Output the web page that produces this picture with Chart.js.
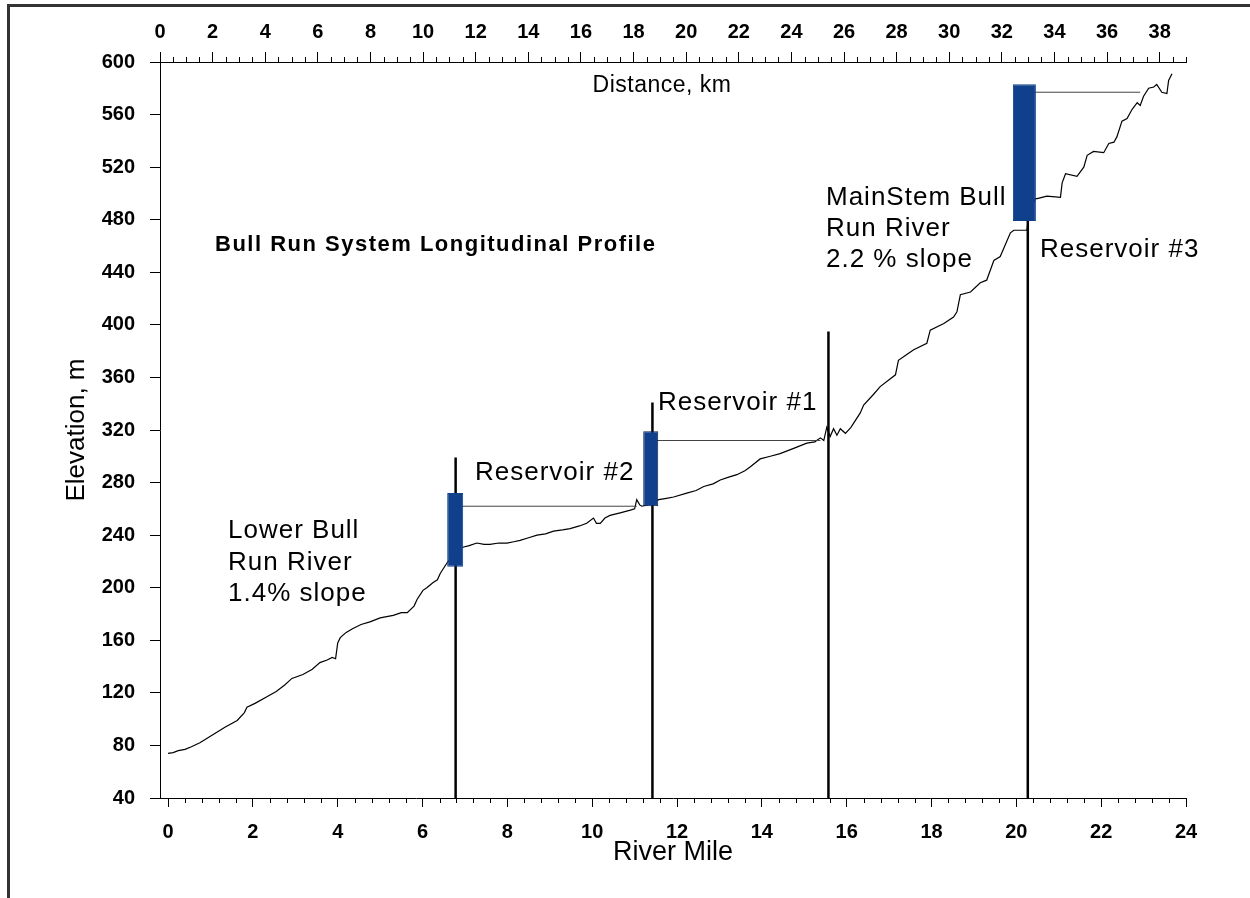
<!DOCTYPE html>
<html>
<head>
<meta charset="utf-8">
<title>Bull Run System Longitudinal Profile</title>
<script src="https://cdn.jsdelivr.net/npm/chart.js@4.4.1/dist/chart.umd.min.js"></script>
<style>
  html, body { margin: 0; padding: 0; background: #fff; }
  #wrap { position: relative; width: 1250px; height: 898px; overflow: hidden; }
  #profilo { position: absolute; left: 0; top: 0; }
  #cornice { position: absolute; left: 7px; top: 4px; width: 1300px; height: 1000px;
             border-top: 3px solid #333; border-left: 3px solid #333; pointer-events: none; }
</style>
</head>
<body>
<div id="wrap">
  <canvas id="profilo" width="1250" height="898"></canvas>
  <div id="cornice"></div>
</div>
<script>
// river bed profile (river mile, elevation m)
var riverMile = [0.00, 0.12, 0.24, 0.40, 0.55, 0.75, 0.95, 1.15, 1.35, 1.63, 1.80, 1.86, 2.05, 2.33, 2.55, 2.75, 2.92, 3.18, 3.40, 3.58, 3.75, 3.87, 3.95, 4.00, 4.06, 4.20, 4.36, 4.55, 4.76, 5.00, 5.31, 5.50, 5.64, 5.80, 5.87, 6.01, 6.10, 6.25, 6.35, 6.42, 6.58, 6.72, 6.80, 6.97,
  7.10, 7.28, 7.45, 7.59, 7.80, 7.99, 8.15, 8.30, 8.50, 8.70, 8.90, 9.09, 9.30, 9.48, 9.70, 9.87, 10.03, 10.10, 10.19, 10.30, 10.42, 10.66, 10.90, 11.00, 11.05, 11.12, 11.17, 11.30,
  11.57, 11.75, 11.92, 12.23, 12.45, 12.63, 12.85, 13.02, 13.20, 13.41, 13.60, 13.73, 13.96, 14.20, 14.43, 14.75, 15.06, 15.25, 15.38, 15.46, 15.53, 15.61, 15.69, 15.77, 15.85, 15.97, 16.10,
  16.32, 16.40, 16.63, 16.79, 17.03, 17.15, 17.22, 17.40, 17.58, 17.89, 17.97, 18.29, 18.52, 18.60, 18.68, 18.92, 19.15, 19.30, 19.47, 19.62, 19.86, 19.94, 20.25, 20.30, 20.45,
  20.49, 20.72, 21.04, 21.08, 21.16, 21.43, 21.59, 21.67, 21.82, 22.06, 22.18, 22.30, 22.37, 22.49, 22.61, 22.73, 22.85, 22.92, 23.00, 23.12, 23.24, 23.31, 23.43, 23.55, 23.59, 23.67];
var elevation = [74, 74.5, 76, 77, 79, 82, 86, 90, 94, 99, 105, 109, 112, 117, 121, 126, 131, 134, 138, 143, 145, 147, 146, 158, 162, 166, 169, 172, 174, 177, 179, 181, 181, 186, 191, 198, 200, 204, 206, 211, 219, 225, 229, 231,
  232, 234, 233, 233, 234, 234, 235, 236, 238, 240, 241, 243, 244, 245, 247, 249, 253, 249, 249, 253, 255, 257, 259, 260, 267, 263, 262, 263,
  267, 268, 269, 272, 274, 277, 279, 282, 284, 286, 289, 292, 298, 300, 302, 306, 310, 311, 314, 312, 322, 315, 321, 316, 321, 317.5, 322,
  333, 339, 347, 353, 359, 362, 373, 377, 381, 386, 396, 401, 406, 410, 423, 425, 432, 434, 449, 452, 470, 472, 472, 485, 496,
  496, 498, 497, 508, 515, 513, 520, 529, 532, 531, 538, 539, 543, 555, 557, 564, 569, 567, 574, 580, 581, 583, 577, 576, 586, 591];

// reservoirs: dam bar and water surface
var barMile = [6.77, 11.38, 20.19];
var barLow = [216, 262, 479];
var barHigh = [272, 319, 583];
var poolStart = [6.77, 11.38, 20.19];
var poolEnd = [11.05, 15.38, 22.92];
var poolLevel = [262, 312, 577];

// vertical lines at the dams
var damMile = [6.78, 11.42, 15.57, 20.27];
var damTop = [299, 341, 395, 485];

var mileTicks = [0, 2, 4, 6, 8, 10, 12, 14, 16, 18, 20, 22, 24];
var kmTicks = [0, 2, 4, 6, 8, 10, 12, 14, 16, 18, 20, 22, 24, 26, 28, 30, 32, 34, 36, 38];
var elevTicks = [40, 80, 120, 160, 200, 240, 280, 320, 360, 400, 440, 480, 520, 560, 600];

var FONT = '"Liberation Sans", Arial, sans-serif';
var barWidth = [16, 15, 23];

// texts written on the plot
var scritte = [
  { righe: ['Bull Run System Longitudinal Profile'], x: 215, y: 245, font: 'bold 22px ' + FONT, ls: '1.5px' },
  { righe: ['Distance, km'], x: 662, y: 86, font: '23px ' + FONT, ls: '0.5px', align: 'center' },
  { righe: ['Reservoir #2'], x: 475, y: 473, font: '26px ' + FONT, ls: '1px' },
  { righe: ['Reservoir #1'], x: 658, y: 403, font: '26px ' + FONT, ls: '1px' },
  { righe: ['Reservoir #3'], x: 1040, y: 250, font: '26px ' + FONT, ls: '1px' },
  { righe: ['Lower Bull', 'Run River', '1.4% slope'], x: 228, y: 531, lh: 31.5, font: '26px ' + FONT, ls: '1px' },
  { righe: ['MainStem Bull', 'Run River', '2.2 % slope'], x: 826, y: 198, lh: 31, font: '26px ' + FONT, ls: '1px' }
];

function init() {
  var profilo = [];
  for (var i = 0; i < riverMile.length; i++) {
    profilo.push({ x: riverMile[i], y: elevation[i] });
  }

  var datasets = [];

  // blue bars on top
  for (var b = 0; b < barMile.length; b++) {
    datasets.push({
      type: 'bar',
      label: 'diga ' + b,
      data: [{ x: barMile[b], y: [barLow[b], barHigh[b]] }],
      backgroundColor: '#10408c',
      borderColor: b == 1 ? '#0a2350' : '#10408c',
      borderWidth: 1,
      borderSkipped: false,
      grouped: false,
      maxBarThickness: barWidth[b],
      order: 0
    });
  }

  for (var d = 0; d < damMile.length; d++) {
    datasets.push({
      type: 'line',
      label: 'dam ' + d,
      data: [{ x: damMile[d], y: 40 }, { x: damMile[d], y: damTop[d] }],
      borderColor: '#000',
      borderWidth: 2.5,
      pointRadius: 0,
      order: 1
    });
  }

  for (var p = 0; p < poolLevel.length; p++) {
    datasets.push({
      type: 'line',
      label: 'pool ' + p,
      data: [{ x: poolStart[p], y: poolLevel[p] }, { x: poolEnd[p], y: poolLevel[p] }],
      borderColor: '#444',
      borderWidth: 1,
      pointRadius: 0,
      order: 2
    });
  }

  datasets.push({
    type: 'line',
    label: 'profile',
    data: profilo,
    borderColor: '#000',
    borderWidth: 1.2,
    pointRadius: 0,
    tension: 0,
    order: 3
  });

  var tacche = {
    id: 'tacche',
    afterDraw: function (chart) {
      var ctx = chart.ctx;
      var xb = chart.scales.x, xt = chart.scales.xTop;
      var area = chart.chartArea;
      ctx.save();
      ctx.strokeStyle = '#000';
      ctx.lineWidth = 1;
      ctx.beginPath();
      for (var i = 1; i < 60; i++) {
        if (i % 5 == 0) continue;
        var px = Math.round(xb.getPixelForValue(i * 0.4)) + 0.5;
        ctx.moveTo(px, area.bottom);
        ctx.lineTo(px, area.bottom + 5);
      }
      for (var k = 1; k < 80; k++) {
        if (k % 4 == 0) continue;
        var v = k * 0.5;
        if (v > xt.max) break;
        var pk = Math.round(xt.getPixelForValue(v)) + 0.5;
        ctx.moveTo(pk, area.top);
        ctx.lineTo(pk, area.top - 5);
      }
      ctx.stroke();

      ctx.fillStyle = '#000';
      ctx.textBaseline = 'middle';
      scritte.forEach(function (s) {
        ctx.font = s.font;
        ctx.textAlign = s.align || 'left';
        ctx.letterSpacing = s.ls || '0px';
        s.righe.forEach(function (t, j) {
          ctx.fillText(t, s.x, s.y + j * (s.lh || 0));
        });
      });
      ctx.restore();
    }
  };

  var tickFont = { family: FONT, size: 20, weight: 'bold' };

  new Chart(document.getElementById('profilo'), {
    type: 'line',
    data: { datasets: datasets },
    plugins: [tacche],
    options: {
      responsive: false,
      animation: false,
      devicePixelRatio: 1,
      layout: { padding: { left: 0, top: 0, right: 64, bottom: 0 } },
      plugins: { legend: { display: false }, tooltip: { enabled: false } },
      scales: {
        x: {
          type: 'linear', position: 'bottom', min: -0.19, max: 24, offset: false,
          afterBuildTicks: function (s) { s.ticks = mileTicks.map(function (v) { return { value: v }; }); },
          afterFit: function (s) { s.height = 100; },
          border: { color: '#000', width: 1 },
          grid: { drawOnChartArea: false, offset: false, color: '#000', tickColor: '#000', tickLength: 9 },
          ticks: { color: '#000', font: tickFont, padding: 13, autoSkip: false, maxRotation: 0 },
          title: { display: true, text: 'River Mile', color: '#000', font: { family: FONT, size: 27 }, padding: { top: 0, bottom: 29 } }
        },
        xTop: {
          type: 'linear', position: 'top', min: 0, max: 39.0, offset: false,
          afterBuildTicks: function (s) { s.ticks = kmTicks.map(function (v) { return { value: v }; }); },
          afterFit: function (s) { s.height = 62; },
          border: { color: '#000', width: 1 },
          grid: { drawOnChartArea: false, offset: false, color: '#000', tickColor: '#000', tickLength: 10 },
          ticks: { color: '#000', font: tickFont, padding: 8, autoSkip: false, maxRotation: 0 }
        },
        y: {
          type: 'linear', position: 'left', min: 40, max: 600, offset: false,
          afterBuildTicks: function (s) { s.ticks = elevTicks.map(function (v) { return { value: v }; }); },
          afterFit: function (s) { s.width = 160; },
          border: { color: '#000', width: 1 },
          grid: { drawOnChartArea: false, color: '#000', tickColor: '#000', tickLength: 10 },
          ticks: { color: '#000', font: tickFont, padding: 15, autoSkip: false },
          title: { display: true, text: 'Elevation, m', color: '#000', font: { family: FONT, size: 26 }, padding: { top: 61, bottom: 0 } }
        }
      }
    }
  });
}

init();
</script>
</body>
</html>
